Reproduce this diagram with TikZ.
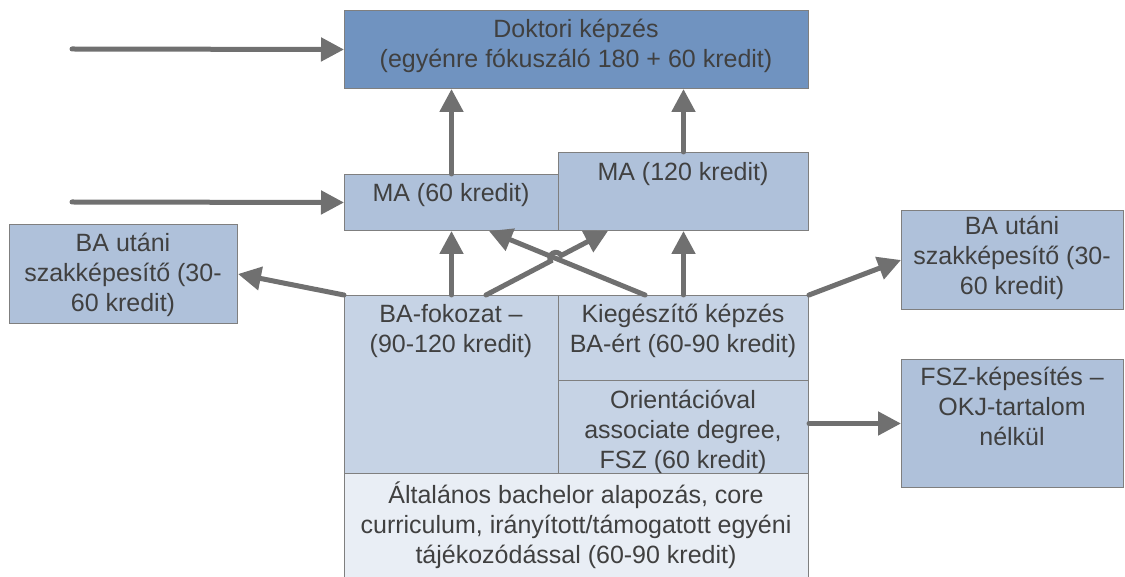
\documentclass[tikz,border=0pt]{standalone}
\usepackage{fontspec}
\setmainfont{Liberation Sans}
\usetikzlibrary{arrows.meta,calc}
\definecolor{dokfill}{HTML}{7093C0}
\definecolor{midfill}{HTML}{AFC1DA}
\definecolor{bafill}{HTML}{C6D3E5}
\definecolor{basefill}{HTML}{E9EEF5}
\definecolor{edge}{HTML}{7F7F7F}
\definecolor{arrowgray}{HTML}{707070}
\definecolor{ink}{HTML}{404040}
\tikzset{
  box/.style={draw=edge, line width=1pt, inner sep=0pt, anchor=north west},
  txt/.style={inner sep=0pt, anchor=base, text=ink, font=\fontsize{25}{30}\selectfont},
  arr/.style={draw=arrowgray, line width=5pt, line cap=round, -{Triangle[length=23pt,width=23pt]}},
}
% #1 name prefix, #2 x centre, #3 first baseline, #4 lines
\newcommand\boxlines[4]{%
  \foreach \ln [count=\i from 0] in {#4} \node[txt] (#1-\i) at (#2,#3-30*\i) {\ln};}
\begin{document}
\begin{tikzpicture}[x=1pt,y=1pt]
\clip (0,0) rectangle (1125,576);

% boxes
\node[box, fill=dokfill,  minimum width=464pt, minimum height=78pt]  (dok)     at (344,566) {};
\node[box, fill=midfill,  minimum width=214pt, minimum height=56pt]  (ma60)    at (344,402) {};
\node[box, fill=midfill,  minimum width=250pt, minimum height=78pt]  (ma120)   at (558,424) {};
\node[box, fill=bafill,   minimum width=214pt, minimum height=178pt] (bafok)   at (344,281) {};
\node[box, fill=bafill,   minimum width=250pt, minimum height=85pt]  (kieg)    at (558,281) {};
\node[box, fill=bafill,   minimum width=250pt, minimum height=93pt]  (orient)  at (558,196) {};
\node[box, fill=basefill, minimum width=464pt, minimum height=108pt] (alt)     at (344,103) {};
\node[box, fill=midfill,  minimum width=228pt, minimum height=99pt]  (leftba)  at (9,352) {};
\node[box, fill=midfill,  minimum width=222pt, minimum height=99pt]  (rightba) at (901,366) {};
\node[box, fill=midfill,  minimum width=222pt, minimum height=128pt] (fsz)     at (901,217) {};

% texts
\boxlines{tdok}{576}{538.5}{Doktori képzés,(egyénre fókuszáló 180 + 60 kredit)}
\boxlines{tma60}{451}{374.3}{MA (60 kredit)}
\boxlines{tma120}{683}{395.3}{MA (120 kredit)}
\boxlines{tbafok}{451}{253}{BA-fokozat –,(90-120 kredit)}
\boxlines{tkieg}{683}{253}{Kiegészítő képzés,BA-ért (60-90 kredit)}
\boxlines{torient}{683}{167}{Orientációval,associate degree\char44,FSZ (60 kredit)}
\boxlines{talt}{576}{72.4}{{Általános bachelor alapozás, core},curriculum\char44\ irányított/támogatott egyéni,tájékozódással (60-90 kredit)}
\boxlines{tleft}{123}{324.3}{BA utáni,szakképesítő (30-,60 kredit)}
\boxlines{tright}{1012}{341}{BA utáni,szakképesítő (30-,60 kredit)}
\boxlines{tfsz}{1012}{190.3}{FSZ-képesítés –,OKJ-tartalom,nélkül}

% connectors
\coordinate (in1) at (72,527);
\coordinate (in2) at (72,374);
\draw[arr] (in1) -- (dok.west);
\draw[arr] (in2) -- (ma60.west);
\draw[arr] (ma60.north) -- (ma60.north |- dok.south);
\draw[arr] (ma120.north) -- (ma120.north |- dok.south);
\draw[arr] (bafok.north) -- (bafok.north |- ma60.south);
\draw[arr] (kieg.north) -- (kieg.north |- ma120.south);

\coordinate (a1) at ([xshift=142pt]bafok.north west);
\coordinate (a2) at ([xshift=50pt]ma120.south west);
\coordinate (b1) at ([xshift=87pt]kieg.north west);
\coordinate (b2) at ([xshift=-70pt]ma60.south east);
\coordinate (hop) at (intersection of a1--a2 and b1--b2);
\draw[arr] (b1) -- (b2);
\draw[arr] (a1) -- ($(hop)!6pt!(a1)$) arc[start angle=208, end angle=28, radius=6pt] -- (a2);

\draw[arr] (bafok.north west) -- (leftba.east);
\draw[arr] (kieg.north east) -- (rightba.west);
\draw[arr] (orient.east |- fsz.west) -- (fsz.west);
\end{tikzpicture}
\end{document}
